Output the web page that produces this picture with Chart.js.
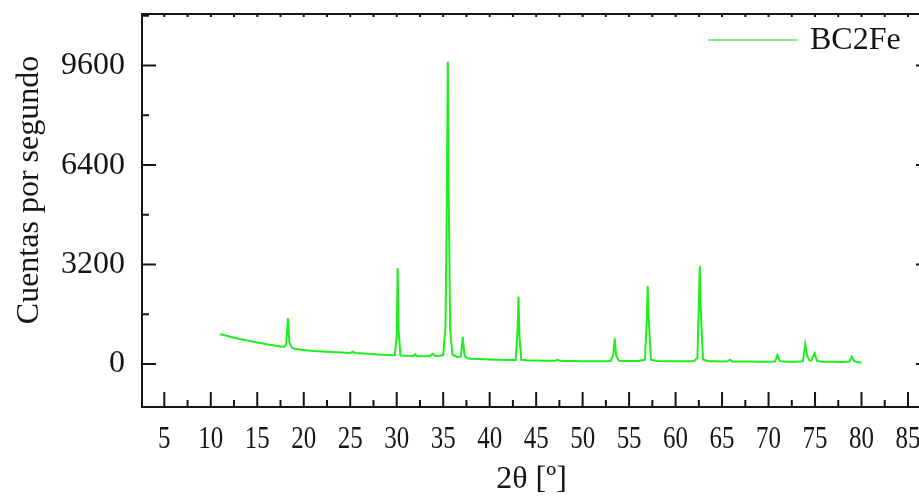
<!DOCTYPE html>
<html>
<head>
<meta charset="utf-8">
<script src="https://cdn.jsdelivr.net/npm/chart.js@4"></script>
<style>
  html, body { margin: 0; padding: 0; background: #fff; overflow: hidden; }
</style>
</head>
<body>
<canvas id="xrd" width="925" height="496"></canvas>
<script>
// difractograma BC2Fe
const twoTheta = [
  11.0, 11.5, 12.0, 12.5, 13.0, 13.5, 14.0, 14.5, 15.0, 15.5, 16.0, 16.5, 17.0, 17.5,
  17.9, 18.1, 18.3, 18.45, 18.7, 19.0, 19.5, 20.0, 21.0, 22.0, 23.0, 24.0, 25.0, 25.3,
  25.5, 26.0, 27.0, 28.0, 29.0, 29.8, 30.0, 30.1, 30.2, 30.4, 31.0, 31.8, 32.0, 32.2,
  33.0, 33.5, 33.9, 34.1, 34.5, 35.0, 35.25, 35.4, 35.5, 35.6, 35.75, 36.0, 36.5, 36.9,
  37.1, 37.3, 37.6, 38.0, 39.0, 40.0, 41.0, 42.0, 42.8, 43.0, 43.1, 43.2, 43.4, 44.0,
  45.0, 46.0, 47.0, 47.3, 47.6, 48.0, 49.0, 50.0, 51.0, 52.0, 53.0, 53.3, 53.45, 53.6,
  53.9, 54.5, 55.0, 56.0, 56.7, 56.9, 57.0, 57.1, 57.35, 58.0, 59.0, 60.0, 61.0, 62.0,
  62.35, 62.5, 62.6, 62.7, 62.95, 63.5, 64.0, 65.0, 65.6, 65.85, 66.1, 67.0, 68.0, 69.0,
  70.0, 70.7, 70.95, 71.2, 72.0, 73.0, 73.7, 73.95, 74.15, 74.4, 74.6, 74.95, 75.2, 75.6,
  76.0, 77.0, 78.0, 78.7, 78.95, 79.2, 79.5, 79.8, 80.0
];
const counts = [
  960, 925, 885, 850, 815, 785, 755, 725, 695, 670, 640, 615, 590, 565,
  555, 620, 1470, 700, 530, 490, 470, 450, 425, 405, 390, 375, 360, 400,
  355, 345, 330, 310, 295, 285, 900, 3080, 1100, 280, 265, 260, 320, 255,
  250, 255, 330, 270, 260, 290, 1200, 5600, 9720, 5200, 1100, 300, 230, 240,
  880, 260, 190, 175, 160, 150, 140, 130, 130, 1100, 2165, 900, 140, 120,
  115, 110, 105, 140, 105, 100, 100, 95, 95, 95, 100, 300, 826, 280,
  110, 100, 100, 100, 140, 1400, 2510, 1500, 140, 100, 95, 95, 95, 100,
  200, 1900, 3150, 1800, 150, 95, 90, 85, 90, 140, 85, 80, 80, 78,
  76, 85, 290, 95, 75, 75, 90, 643, 260, 120, 110, 344, 110, 80,
  75, 72, 70, 80, 235, 100, 65, 60, 45
];
const xTickLabels = [5, 10, 15, 20, 25, 30, 35, 40, 45, 50, 55, 60, 65, 70, 75, 80, 85];
const yTickLabels = [0, 3200, 6400, 9600];
const seriesName = 'BC2Fe';
const xTitle = '2θ [º]';
const yTitle = 'Cuentas por segundo';

const serif = "'Liberation Serif', 'Times New Roman', serif";
const ink = '#161616';
const lineGreen = '#1cef1c';

// marco con marcas hacia dentro, etiquetas del eje x, título del eje y y leyenda
const frame = {
  id: 'frame',
  afterDraw(chart) {
    const { ctx, chartArea: a, scales: { x, y } } = chart;
    ctx.save();
    ctx.strokeStyle = ink;
    ctx.lineWidth = 2;
    ctx.strokeRect(a.left, a.top, a.right - a.left, a.bottom - a.top);

    ctx.beginPath();
    xTickLabels.forEach(v => {
      const px = x.getPixelForValue(v);
      ctx.moveTo(px, a.bottom); ctx.lineTo(px, a.bottom - 15);
      ctx.moveTo(px, a.top); ctx.lineTo(px, a.top + 3);
      const m = x.getPixelForValue(v + 2.5);
      if (v + 2.5 < x.max) {
        ctx.moveTo(m, a.bottom); ctx.lineTo(m, a.bottom - 7);
        ctx.moveTo(m, a.top); ctx.lineTo(m, a.top + 3);
      }
    });
    yTickLabels.forEach(v => {
      const py = y.getPixelForValue(v);
      ctx.moveTo(a.left, py); ctx.lineTo(a.left + 14, py);
      ctx.moveTo(a.right, py); ctx.lineTo(a.right - 5, py);
      if (v + 1600 < y.max) {
        const m = y.getPixelForValue(v + 1600);
        ctx.moveTo(a.left, m); ctx.lineTo(a.left + 7, m);
      }
    });
    ctx.stroke();

    ctx.fillStyle = ink;
    ctx.font = '32px ' + serif;
    ctx.textAlign = 'center';
    ctx.textBaseline = 'alphabetic';
    xTickLabels.forEach(v => {
      ctx.save();
      ctx.translate(x.getPixelForValue(v), a.bottom + 41);
      ctx.scale(0.78, 1);
      ctx.fillText(String(v), 0, 0);
      ctx.restore();
    });

    // leyenda
    ctx.strokeStyle = '#84f084';
    ctx.lineWidth = 2;
    ctx.beginPath();
    ctx.moveTo(708, a.top + 26);
    ctx.lineTo(797, a.top + 26);
    ctx.stroke();
    ctx.textAlign = 'left';
    ctx.textBaseline = 'middle';
    ctx.fillText(seriesName, 810, a.top + 27);

    ctx.translate(30, 190);
    ctx.rotate(-Math.PI / 2);
    ctx.textAlign = 'center';
    ctx.fillText(yTitle, 0, 0);
    ctx.restore();
  }
};

// sin márgenes extra de las etiquetas: el área de trazado queda fija
function noPad(s) {
  s.paddingTop = 0; s.paddingBottom = 0; s.paddingLeft = 0; s.paddingRight = 0;
}

function draw() {
  new Chart(document.getElementById('xrd'), {
    type: 'line',
    data: {
      datasets: [{
        label: seriesName,
        data: twoTheta.map((t, i) => ({ x: t, y: counts[i] })),
        borderColor: lineGreen,
        borderWidth: 2,
        pointRadius: 0,
        tension: 0,
        fill: false
      }]
    },
    options: {
      responsive: false,
      animation: false,
      devicePixelRatio: 1,
      layout: { padding: { top: 14, right: 4, left: 0, bottom: 0 } },
      plugins: {
        tooltip: { enabled: false },
        legend: { display: false }
      },
      scales: {
        x: {
          type: 'linear',
          min: 2.6,
          max: 86.4,
          grid: { display: false, drawTicks: false },
          border: { display: false },
          ticks: { display: false },
          afterBuildTicks: s => { s.ticks = xTickLabels.map(v => ({ value: v })); },
          afterFit: s => { s.height = 89; noPad(s); },
          title: {
            display: true,
            text: xTitle,
            color: ink,
            font: { family: serif, size: 32, lineHeight: 1 },
            padding: 0
          }
        },
        y: {
          min: -1380,
          max: 11260,
          grid: { display: false, drawTicks: false },
          border: { display: false },
          afterBuildTicks: s => { s.ticks = yTickLabels.map(v => ({ value: v })); },
          afterFit: s => { s.width = 142; noPad(s); },
          ticks: {
            color: ink,
            padding: 17,
            font: { family: serif, size: 32 },
            callback: v => String(v)
          }
        }
      }
    },
    plugins: [frame]
  });
}

document.fonts.load('32px "Liberation Serif"').then(draw, draw);
</script>
</body>
</html>
